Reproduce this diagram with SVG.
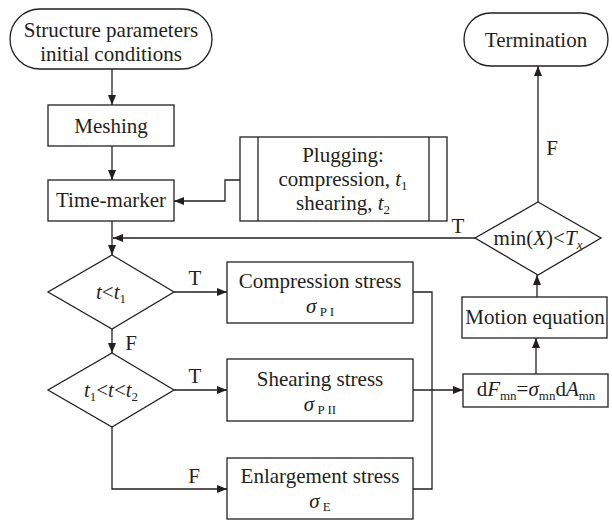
<svg xmlns="http://www.w3.org/2000/svg" width="612" height="521" viewBox="0 0 612 521" font-family="'Liberation Serif', 'Times New Roman', 'DejaVu Serif', serif">
<style>
.s{fill:#fff;stroke:#231f20;stroke-width:1.3}
.l{fill:none;stroke:#231f20;stroke-width:1.3}
text{font-family:'Liberation Serif','Times New Roman','DejaVu Serif',serif;font-size:21px;fill:#231f20}
.c{text-anchor:middle}
.i{font-style:italic}
.sub{font-size:13px}
</style>
<defs>
<marker id="ah" viewBox="0 0 10 8" refX="10" refY="4" markerWidth="11" markerHeight="8" orient="auto" markerUnits="userSpaceOnUse"><path d="M0,0 L10,4 L0,8 z" fill="#231f20"/></marker>
</defs>
<rect width="612" height="521" fill="#fff"/>
<g id="start">
<rect class="s" x="10" y="9" width="202" height="60" rx="30"/>
<text class="c" x="111" y="37">Structure parameters</text>
<text class="c" x="111" y="61">initial conditions</text>
</g>
<g id="meshing">
<rect class="s" x="48" y="105" width="126" height="41"/>
<text class="c" x="111" y="133">Meshing</text>
</g>
<g id="timemarker">
<rect class="s" x="48" y="180" width="126" height="41"/>
<text class="c" x="111" y="207">Time-marker</text>
</g>
<g id="plugging">
<rect class="s" x="240" y="137" width="207" height="84"/>
<line class="l" x1="258" y1="137" x2="258" y2="221"/>
<line class="l" x1="429" y1="137" x2="429" y2="221"/>
<text class="c" x="343" y="162">Plugging:</text>
<text class="c" x="343" y="186">compression, <tspan class="i">t</tspan><tspan class="sub" dy="4">1</tspan></text>
<text class="c" x="343" y="210">shearing, <tspan class="i">t</tspan><tspan class="sub" dy="4">2</tspan></text>
</g>
<g id="dec1">
<polygon class="s" points="112,255 174,292 112,329 48,292"/>
<text class="c" x="111" y="299"><tspan class="i">t</tspan>&lt;<tspan class="i">t</tspan><tspan class="sub" dy="4">1</tspan></text>
</g>
<g id="dec2">
<polygon class="s" points="112,353 174,390 112,427 48,390"/>
<text class="c" x="111" y="397"><tspan class="i">t</tspan><tspan class="sub" dy="4">1</tspan><tspan dy="-4">&lt;</tspan><tspan class="i">t</tspan>&lt;<tspan class="i">t</tspan><tspan class="sub" dy="4">2</tspan></text>
</g>
<g id="compression">
<rect class="s" x="227" y="262" width="186" height="61"/>
<text class="c" x="320" y="288">Compression stress</text>
<text class="c" x="320" y="313"><tspan class="i">σ</tspan><tspan class="sub" dy="3"> P I</tspan></text>
</g>
<g id="shearing">
<rect class="s" x="227" y="359" width="186" height="62"/>
<text class="c" x="320" y="386">Shearing stress</text>
<text class="c" x="320" y="411"><tspan class="i">σ</tspan><tspan class="sub" dy="3"> P II</tspan></text>
</g>
<g id="enlargement">
<rect class="s" x="227" y="458" width="186" height="61"/>
<text class="c" x="320" y="483">Enlargement stress</text>
<text class="c" x="320" y="508"><tspan class="i">σ</tspan><tspan class="sub" dy="3"> E</tspan></text>
</g>
<g id="force">
<rect class="s" x="463" y="374" width="145" height="33"/>
<text class="c" x="536" y="396">d<tspan class="i">F</tspan><tspan class="sub" dy="4">mn</tspan><tspan dy="-4">=</tspan><tspan class="i">σ</tspan><tspan class="sub" dy="4">mn</tspan><tspan dy="-4">d</tspan><tspan class="i">A</tspan><tspan class="sub" dy="4">mn</tspan></text>
</g>
<g id="motion">
<rect class="s" x="462" y="297" width="145" height="41"/>
<text class="c" x="535" y="324">Motion equation</text>
</g>
<g id="dec3">
<polygon class="s" points="538,202 601,238 538,275 475,238"/>
<text class="c" x="538" y="245">min(<tspan class="i">X</tspan>)&lt;<tspan class="i">T</tspan><tspan class="sub i" dy="4">x</tspan></text>
</g>
<g id="termination">
<rect class="s" x="464" y="13" width="144" height="53" rx="26.5"/>
<text class="c" x="536" y="47">Termination</text>
</g>
<g id="connectors">
<line class="l" x1="112" y1="69" x2="112" y2="105" marker-end="url(#ah)"/>
<line class="l" x1="112" y1="146" x2="112" y2="180" marker-end="url(#ah)"/>
<polyline class="l" points="240,180 225,180 225,201 174,201" marker-end="url(#ah)"/>
<line class="l" x1="112" y1="221" x2="112" y2="255" marker-end="url(#ah)"/>
<line class="l" x1="475" y1="238" x2="113" y2="238" marker-end="url(#ah)"/>
<line class="l" x1="112" y1="329" x2="112" y2="353" marker-end="url(#ah)"/>
<line class="l" x1="174" y1="292" x2="227" y2="292" marker-end="url(#ah)"/>
<line class="l" x1="174" y1="390" x2="227" y2="390" marker-end="url(#ah)"/>
<polyline class="l" points="112,427 112,489 227,489" marker-end="url(#ah)"/>
<polyline class="l" points="413,292 432,292 432,489 413,489"/>
<line class="l" x1="413" y1="390" x2="463" y2="390" marker-end="url(#ah)"/>
<line class="l" x1="536" y1="374" x2="536" y2="338" marker-end="url(#ah)"/>
<line class="l" x1="537" y1="297" x2="537" y2="275" marker-end="url(#ah)"/>
<line class="l" x1="538" y1="202" x2="538" y2="66" marker-end="url(#ah)"/>
<text class="c" x="195" y="285">T</text>
<text class="c" x="131" y="350">F</text>
<text class="c" x="195" y="383">T</text>
<text class="c" x="194" y="483">F</text>
<text class="c" x="552" y="155">F</text>
<text class="c" x="458" y="233">T</text>
</g>
</svg>
